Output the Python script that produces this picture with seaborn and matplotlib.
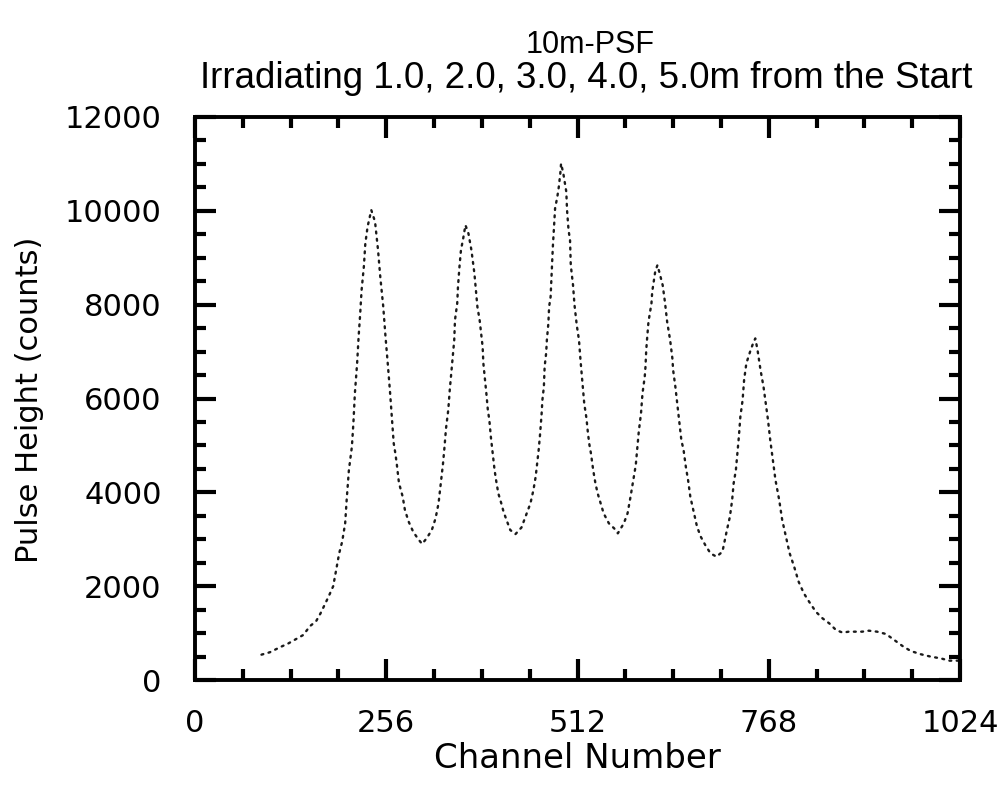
import matplotlib
matplotlib.use("Agg")
import matplotlib.pyplot as plt
from matplotlib.ticker import MultipleLocator, FixedLocator
import seaborn as sns
import pandas as pd

# ---- data ----
channel = [89, 100, 114, 125, 136, 145, 154, 162, 168, 175, 180, 185, 189, 193, 197,
           201, 203, 206, 210, 212, 214, 217, 219, 221, 223, 226, 228, 231, 236,
           241, 245, 248, 252, 255, 258, 261, 264, 266, 268, 270, 273, 278, 281,
           286, 292, 299, 304, 310, 317, 322, 326, 329, 332, 334, 336, 339, 341,
           343, 345, 347, 348, 351, 352, 354, 356, 359, 362, 366, 370, 374, 376,
           378, 381, 383, 385, 386, 388, 390, 392, 394, 396, 399, 401, 403, 406,
           410, 413, 417, 422, 429, 437, 444, 449, 453, 456, 458, 460, 462, 464,
           465, 467, 468, 470, 471, 473, 474, 476, 477, 478, 479, 480, 481, 482,
           485, 487, 489, 490, 493, 497, 498, 500, 502, 503, 506, 508, 511, 514,
           516, 519, 521, 524, 526, 528, 530, 533, 536, 539, 543, 547, 554, 561,
           566, 574, 579, 583, 587, 590, 592, 594, 597, 599, 602, 603, 604, 605,
           607, 611, 612, 614, 616, 619, 622, 626, 629, 632, 636, 639, 640, 643,
           646, 649, 651, 654, 657, 660, 663, 668, 672, 677, 683, 690, 698, 706,
           712, 716, 719, 721, 724, 726, 728, 730, 733, 735, 738, 743, 747, 750,
           753, 757, 761, 764, 767, 770, 774, 777, 782, 786, 791, 796, 802, 808,
           815, 822, 831, 840, 849, 858, 867, 875, 884, 893, 902, 913, 925, 936,
           947, 958, 972, 985, 998, 1010, 1021]
counts = [540, 590, 700, 780, 880, 960, 1150, 1250, 1420, 1650, 1820, 2000, 2350, 2700, 2950,
          3339, 3836, 4475, 4972, 5470, 6109, 6748, 7316, 7778, 8311, 8807, 9305, 9660, 10016,
          9767, 9163, 8594, 7955, 7316, 6748, 6150, 5470, 5044, 4850, 4617, 4200, 3907, 3623,
          3374, 3161, 2998, 2900, 3019, 3196, 3445, 3765, 4191, 4617, 4972, 5363, 5754, 6180,
          6535, 6890, 7245, 7672, 8027, 8381, 8807, 9163, 9412, 9696, 9518, 9163, 8666, 8311,
          7955, 7672, 7388, 7103, 6748, 6429, 6109, 5754, 5541, 5185, 4759, 4475, 4262, 3978,
          3765, 3587, 3410, 3196, 3110, 3250, 3552, 3765, 4049, 4333, 4617, 4901, 5257, 5683,
          5967, 6250, 6677, 6962, 7245, 7601, 7955, 8168, 8524, 8880, 9234, 9518, 9803, 10052,
          10300, 10513, 10800, 11010, 10798, 10407, 10016, 9590, 9376, 8843, 8417, 7991, 7565, 7245,
          6819, 6250, 5896, 5577, 5257, 5008, 4830, 4475, 4191, 3978, 3765, 3552, 3339, 3233,
          3126, 3339, 3552, 3907, 4300, 4580, 4930, 5290, 5683, 6109, 6464, 6677, 7032, 7245,
          7635, 8027, 8275, 8488, 8701, 8843, 8666, 8417, 8062, 7635, 7245, 6855, 6606, 6250,
          5824, 5398, 5114, 4901, 4546, 4262, 3907, 3552, 3267, 3054, 2877, 2700, 2628, 2734,
          3196, 3480, 3836, 4191, 4475, 4830, 5185, 5612, 5967, 6393, 6748, 6996, 7174, 7281,
          7032, 6606, 6250, 5896, 5541, 5114, 4617, 4262, 3836, 3410, 3054, 2700, 2415, 2095,
          1847, 1669, 1456, 1314, 1207, 1066, 1009, 1030, 1030, 1030, 1051, 1030, 980, 852,
          725, 618, 547, 497, 462, 412, 412]

x_ticks = [0, 256, 512, 768, 1024]
y_ticks = [0, 2000, 4000, 6000, 8000, 10000, 12000]
title_lines = ["10m-PSF", "Irradiating 1.0, 2.0, 3.0, 4.0, 5.0m from the Start"]
x_label = "Channel Number"
y_label = "Pulse Height (counts)"

df = pd.DataFrame({"channel": channel, "counts": counts})

sns.set_theme(style="ticks")
plt.rcParams["font.family"] = ["DejaVu Sans"]

fig = plt.figure(figsize=(10.08, 7.86), dpi=100)
ax = fig.add_axes([195 / 1008, 1 - 680 / 786, (960 - 195) / 1008, (680 - 117) / 786])

sns.lineplot(data=df, x="channel", y="counts", ax=ax, color="#1a1a1a",
             linewidth=1.7, linestyle=(0, (0.8, 2.3)), dash_capstyle="round")

ax.set_xlim(0, 1024)
ax.set_ylim(0, 12000)
ax.xaxis.set_major_locator(FixedLocator(x_ticks))
ax.xaxis.set_minor_locator(MultipleLocator(64))
ax.yaxis.set_major_locator(FixedLocator(y_ticks))
ax.yaxis.set_minor_locator(MultipleLocator(500))
ax.set_xticklabels([str(t) for t in x_ticks])
ax.set_yticklabels([str(t) for t in y_ticks])

ax.tick_params(which="both", direction="in", top=True, right=True, color="black")
ax.tick_params(which="major", length=15, width=3.0)
ax.tick_params(which="minor", length=8, width=3.0)
ax.tick_params(axis="x", which="major", pad=21, labelsize=22, labelcolor="black")
ax.tick_params(axis="y", which="major", pad=24, labelsize=22, labelcolor="black")

for s in ax.spines.values():
    s.set_linewidth(2.8)
    s.set_color("black")

ax.set_xlabel("")
ax.set_ylabel("")
fig.text(577 / 1008, 1 - 758 / 786, x_label, ha="center", va="center",
         fontsize=24.5, color="black")
fig.text(30 / 1008, 1 - 400 / 786, y_label, ha="center", va="center",
         rotation=90, fontsize=22, color="black")

fig.text(590 / 1008, 1 - 45 / 786, title_lines[0], ha="center", va="center",
         fontsize=22, color="black", family=["Liberation Sans", "DejaVu Sans"])
fig.text(586 / 1008, 1 - 78 / 786, title_lines[1], ha="center", va="center",
         fontsize=26.5, color="black", family=["Liberation Sans", "DejaVu Sans"])

fig.savefig("out.png", dpi=100, facecolor="white")
